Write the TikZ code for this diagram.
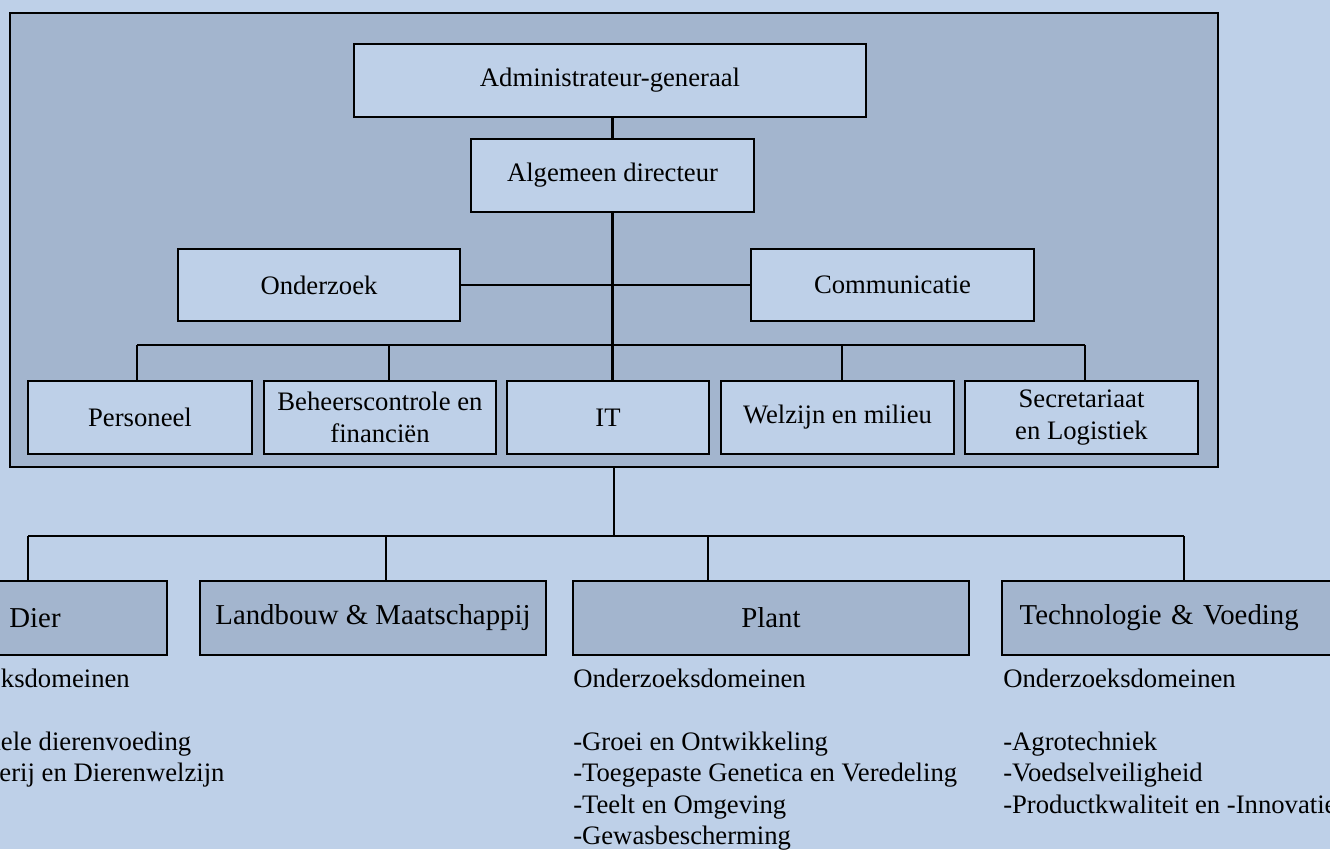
\documentclass[tikz,border=0pt]{standalone}
\usepackage{fontspec}
\setmainfont{Liberation Serif}
\definecolor{lichtblauw}{RGB}{190,208,232}
\definecolor{grijsblauw}{RGB}{163,181,206}
\tikzset{
	dienst/.style={draw, line width=2pt, fill=lichtblauw, minimum height=54.75pt, inner sep=2pt, align=center, font=\fontsize{20}{24}\selectfont},
	eenheid/.style={draw, line width=2pt, fill=grijsblauw, minimum height=55.5pt, inner sep=2pt, font=\fontsize{21.6}{26}\selectfont},
	lijn/.style={line width=1.6pt},
	domeinen/.style={anchor=north west, inner sep=0pt, align=left, font=\fontsize{20}{23.5}\selectfont}
}

\begin{document}
\begin{tikzpicture}[x=0.75pt, y=-0.75pt]
		\useasboundingbox (0,0) rectangle (1330,849);
		\clip (0,0) rectangle (1330,849);
		\fill[lichtblauw] (0,0) rectangle (1330,849);
		%kader centrale diensten
		\filldraw[fill=grijsblauw, draw=black, line width=2pt] (10,13) rectangle (1218,467);
		\coordinate (kaderonder) at (614,467);

		%top
		\node[dienst, minimum width=384pt] (admin) at (610,80.5) {Administrateur-generaal};
		\node[dienst, minimum width=212.25pt] (algdir) at (612.5,175.5) {Algemeen directeur};
		\node[dienst, minimum width=211.5pt, minimum height=54pt] (onderzoek) at (319,285) {Onderzoek};
		\node[dienst, minimum width=212.25pt, minimum height=54pt] (comm) at (892.5,285) {Communicatie};

		%ondersteunende diensten
		\node[dienst, minimum width=168pt] (personeel) at (140,417.5) {Personeel};
		\node[dienst, minimum width=174pt] (beheer) at (380,417.5) {Beheerscontrole en\\financiën};
		\node[dienst, minimum width=151.5pt] (it) at (608,417.5) {IT};
		\node[dienst, minimum width=174.75pt] (welzijn) at (837.5,417.5) {Welzijn en milieu};
		\node[dienst, minimum width=174.75pt] (secr) at (1081.5,417.5) {Secretariaat\\en Logistiek};

		\draw[lijn] (algdir.north) -- (algdir.north |- admin.south);
		\draw[lijn] (algdir.south) -- (algdir.south |- it.north);
		\draw[lijn] (onderzoek.east) -- (comm.west);
		\coordinate (b1) at (137,345);
		\coordinate (b2) at (389,345);
		\coordinate (b4) at (842,345);
		\coordinate (b5) at (1085,345);
		\draw[lijn] (b1) -- (b5);
		\foreach \b/\n in {b1/personeel, b2/beheer, b4/welzijn, b5/secr}
			\draw[lijn] (\b) -- (\b |- \n.north);

		%eenheden
		\node[eenheid, minimum width=198pt] (dier) at (35,618) {Dier};
		\node[eenheid, minimum width=259.5pt] (landbouw) at (373,618) {Landbouw \& Maatschappij};
		\node[eenheid, minimum width=297pt] (plant) at (771,618) {Plant};
		\node[eenheid, minimum width=259.5pt, text width=233pt, inner xsep=12.75pt, align=left] (techno) at (1175,618) {Technologie \& Voeding};

		\coordinate (o1) at (28,536);
		\coordinate (o2) at (386,536);
		\coordinate (o3) at (708,536);
		\coordinate (o4) at (1184,536);
		\draw[lijn] (kaderonder) -- (kaderonder |- o1);
		\draw[lijn] (o1) -- (o4);
		\foreach \o/\n in {o1/dier, o2/landbouw, o3/plant, o4/techno}
			\draw[lijn] (\o) -- (\o |- \n.north);

		%onderzoeksdomeinen
		\node[domeinen] (dierdom) at (-103,669) {Onderzoeksdomeinen\\[23.5pt]-Functionele dierenvoeding\\-Veehouderij en Dierenwelzijn};
		\node[domeinen] (plantdom) at (573,669) {Onderzoeksdomeinen\\[23.5pt]-Groei en Ontwikkeling\\-Toegepaste Genetica en Veredeling\\-Teelt en Omgeving\\-Gewasbescherming};
		\node[domeinen] (technodom) at (1003,669) {Onderzoeksdomeinen\\[23.5pt]-Agrotechniek\\-Voedselveiligheid\\-Productkwaliteit en -Innovatie};
	\end{tikzpicture}
\end{document}
